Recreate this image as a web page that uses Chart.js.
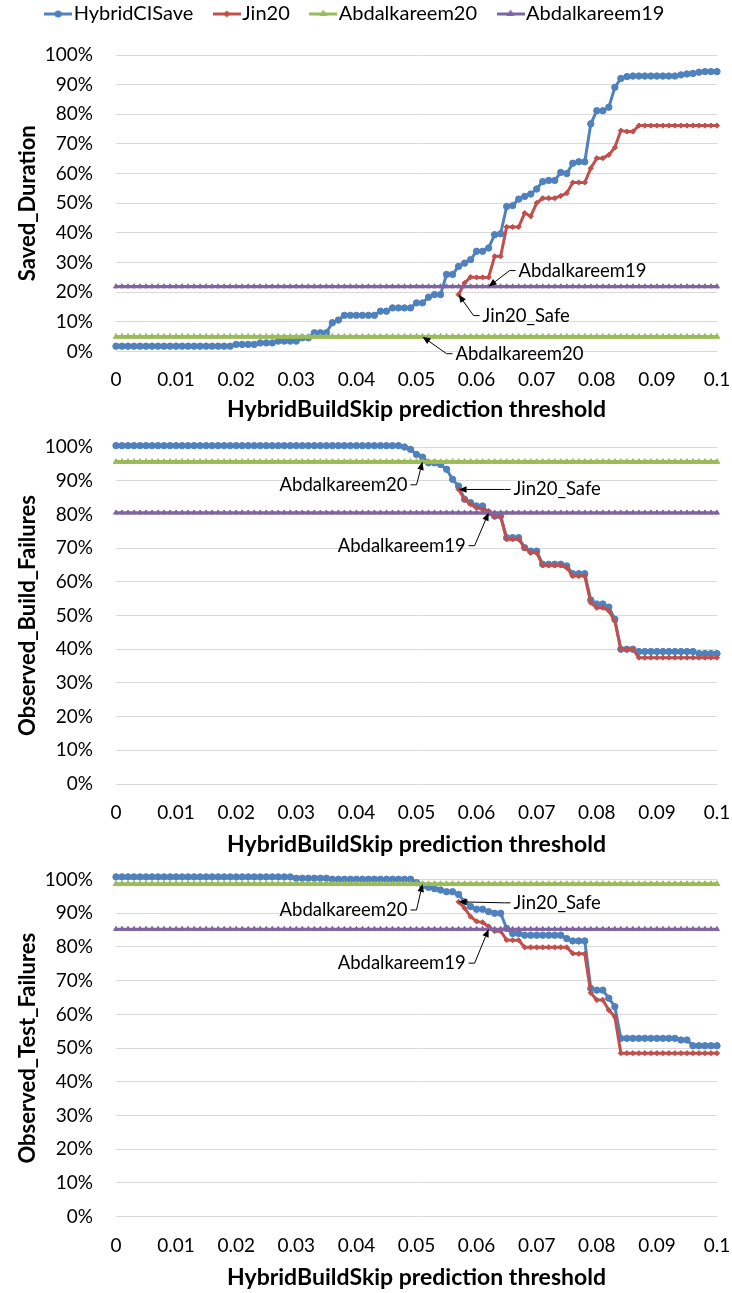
<!DOCTYPE html>
<html><head><meta charset="utf-8">
<script src="https://cdn.jsdelivr.net/npm/chart.js@4.4.0/dist/chart.umd.min.js"></script>
<style>
html,body{margin:0;padding:0;background:#fff;}
body{width:732px;height:1293px;position:relative;overflow:hidden;}
canvas{position:absolute;left:0;}
</style></head><body>
<canvas id="c1" width="732" height="430" style="top:0"></canvas>
<canvas id="c2" width="732" height="435" style="top:430px"></canvas>
<canvas id="c3" width="732" height="428" style="top:865px"></canvas>
<script>
// ---------- data ----------
const seriesNames = ['HybridCISave','Jin20','Abdalkareem20','Abdalkareem19'];
const xTitle = 'HybridBuildSkip prediction threshold';
const yTitles = ['Saved_Duration','Observed_Build_Failures','Observed_Test_Failures'];
const xTickLabels = ['0','0.01','0.02','0.03','0.04','0.05','0.06','0.07','0.08','0.09','0.1'];
const yTickLabels = ['0%','10%','20%','30%','40%','50%','60%','70%','80%','90%','100%'];

const thresholds = [
0,0.001,0.002,0.003,0.004,0.005,0.006,0.007,0.008,0.009,
0.01,0.011,0.012,0.013,0.014,0.015,0.016,0.017,0.018,0.019,
0.02,0.021,0.022,0.023,0.024,0.025,0.026,0.027,0.028,0.029,
0.03,0.031,0.032,0.033,0.034,0.035,0.036,0.037,0.038,0.039,
0.04,0.041,0.042,0.043,0.044,0.045,0.046,0.047,0.048,0.049,
0.05,0.051,0.052,0.053,0.054,0.055,0.056,0.057,0.058,0.059,
0.06,0.061,0.062,0.063,0.064,0.065,0.066,0.067,0.068,0.069,
0.07,0.071,0.072,0.073,0.074,0.075,0.076,0.077,0.078,0.079,
0.08,0.081,0.082,0.083,0.084,0.085,0.086,0.087,0.088,0.089,
0.09,0.091,0.092,0.093,0.094,0.095,0.096,0.097,0.098,0.099,
0.1];

// Saved_Duration (%)
const savedHybrid = [
1.8,1.8,1.8,1.8,1.8,1.8,1.8,1.8,1.8,1.8,
1.8,1.8,1.8,1.8,1.8,1.8,1.8,1.8,1.8,1.8,
2.4,2.4,2.4,2.4,2.9,2.9,2.9,3.5,3.5,3.5,
3.5,4.6,4.6,6.3,6.3,6.3,9.7,10.6,12.2,12.2,
12.2,12.2,12.2,12.2,13.6,13.6,14.7,14.7,14.7,14.7,
16.4,16.4,18.3,19.2,19.2,26.0,26.0,28.7,29.8,31.0,
33.8,33.8,34.9,39.4,39.7,48.9,49.2,51.4,52.3,53.1,
54.8,57.3,57.7,57.7,60.4,60.0,63.5,64.0,64.0,76.8,
81.2,81.2,82.4,89.1,92.1,92.7,92.9,92.9,92.9,92.9,
92.9,92.9,92.9,92.9,93.3,93.6,93.8,94.2,94.4,94.4,
94.4];
const savedJin = [
null,null,null,null,null,null,null,null,null,null,
null,null,null,null,null,null,null,null,null,null,
null,null,null,null,null,null,null,null,null,null,
null,null,null,null,null,null,null,null,null,null,
null,null,null,null,null,null,null,null,null,null,
null,null,null,null,null,null,null,19.2,23.1,25.1,
25.0,25.0,25.0,32.1,32.1,42.0,42.0,42.0,46.7,45.6,
50.1,51.7,51.7,51.7,52.5,53.4,57.0,57.0,57.0,61.8,
65.2,65.2,66.3,68.8,74.5,74.2,74.2,76.2,76.2,76.2,
76.2,76.2,76.2,76.2,76.2,76.2,76.2,76.2,76.2,76.2,
76.2];
const savedAbd20 = [
5,5,5,5,5,5,5,5,5,5, 5,5,5,5,5,5,5,5,5,5, 5,5,5,5,5,5,5,5,5,5,
5,5,5,5,5,5,5,5,5,5, 5,5,5,5,5,5,5,5,5,5, 5,5,5,5,5,5,5,5,5,5,
5,5,5,5,5,5,5,5,5,5, 5,5,5,5,5,5,5,5,5,5, 5,5,5,5,5,5,5,5,5,5,
5,5,5,5,5,5,5,5,5,5, 5];
const savedAbd19 = [
21.9,21.9,21.9,21.9,21.9,21.9,21.9,21.9,21.9,21.9, 21.9,21.9,21.9,21.9,21.9,21.9,21.9,21.9,21.9,21.9,
21.9,21.9,21.9,21.9,21.9,21.9,21.9,21.9,21.9,21.9, 21.9,21.9,21.9,21.9,21.9,21.9,21.9,21.9,21.9,21.9,
21.9,21.9,21.9,21.9,21.9,21.9,21.9,21.9,21.9,21.9, 21.9,21.9,21.9,21.9,21.9,21.9,21.9,21.9,21.9,21.9,
21.9,21.9,21.9,21.9,21.9,21.9,21.9,21.9,21.9,21.9, 21.9,21.9,21.9,21.9,21.9,21.9,21.9,21.9,21.9,21.9,
21.9,21.9,21.9,21.9,21.9,21.9,21.9,21.9,21.9,21.9, 21.9,21.9,21.9,21.9,21.9,21.9,21.9,21.9,21.9,21.9,
21.9];

// Observed_Build_Failures (%)
const buildHybrid = [
100.4,100.4,100.4,100.4,100.4,100.4,100.4,100.4,100.4,100.4,
100.4,100.4,100.4,100.4,100.4,100.4,100.4,100.4,100.4,100.4,
100.4,100.4,100.4,100.4,100.4,100.4,100.4,100.4,100.4,100.4,
100.4,100.4,100.4,100.4,100.4,100.4,100.4,100.4,100.4,100.4,
100.4,100.4,100.4,100.4,100.4,100.4,100.4,100.4,100.0,99.3,
97.8,97.0,95.3,95.3,94.8,93.4,90.4,88.4,84.5,83.5,
82.5,82.5,80.5,79.5,79.5,73.1,73.1,73.1,70.1,69.1,
69.1,65.2,65.2,65.2,65.2,64.7,62.4,62.4,62.4,54.6,
53.4,53.4,52.5,48.9,40.0,40.0,40.0,39.3,39.3,39.3,
39.3,39.3,39.3,39.3,39.3,39.3,39.3,38.7,38.7,38.7,
38.7];
const buildJin = [
null,null,null,null,null,null,null,null,null,null,
null,null,null,null,null,null,null,null,null,null,
null,null,null,null,null,null,null,null,null,null,
null,null,null,null,null,null,null,null,null,null,
null,null,null,null,null,null,null,null,null,null,
null,null,null,null,null,null,null,87.4,84.5,83.0,
82.0,81.5,81.0,79.3,79.3,72.6,72.6,72.6,70.1,68.6,
68.6,64.9,64.9,64.9,64.9,64.2,61.7,61.7,61.7,53.8,
52.3,52.3,51.4,48.3,40.0,40.0,40.0,37.5,37.5,37.5,
37.5,37.5,37.5,37.5,37.5,37.5,37.5,37.5,37.5,37.5,
37.5];
const buildAbd20 = [
95.6,95.6,95.6,95.6,95.6,95.6,95.6,95.6,95.6,95.6, 95.6,95.6,95.6,95.6,95.6,95.6,95.6,95.6,95.6,95.6,
95.6,95.6,95.6,95.6,95.6,95.6,95.6,95.6,95.6,95.6, 95.6,95.6,95.6,95.6,95.6,95.6,95.6,95.6,95.6,95.6,
95.6,95.6,95.6,95.6,95.6,95.6,95.6,95.6,95.6,95.6, 95.6,95.6,95.6,95.6,95.6,95.6,95.6,95.6,95.6,95.6,
95.6,95.6,95.6,95.6,95.6,95.6,95.6,95.6,95.6,95.6, 95.6,95.6,95.6,95.6,95.6,95.6,95.6,95.6,95.6,95.6,
95.6,95.6,95.6,95.6,95.6,95.6,95.6,95.6,95.6,95.6, 95.6,95.6,95.6,95.6,95.6,95.6,95.6,95.6,95.6,95.6,
95.6];
const buildAbd19 = [
80.5,80.5,80.5,80.5,80.5,80.5,80.5,80.5,80.5,80.5, 80.5,80.5,80.5,80.5,80.5,80.5,80.5,80.5,80.5,80.5,
80.5,80.5,80.5,80.5,80.5,80.5,80.5,80.5,80.5,80.5, 80.5,80.5,80.5,80.5,80.5,80.5,80.5,80.5,80.5,80.5,
80.5,80.5,80.5,80.5,80.5,80.5,80.5,80.5,80.5,80.5, 80.5,80.5,80.5,80.5,80.5,80.5,80.5,80.5,80.5,80.5,
80.5,80.5,80.5,80.5,80.5,80.5,80.5,80.5,80.5,80.5, 80.5,80.5,80.5,80.5,80.5,80.5,80.5,80.5,80.5,80.5,
80.5,80.5,80.5,80.5,80.5,80.5,80.5,80.5,80.5,80.5, 80.5,80.5,80.5,80.5,80.5,80.5,80.5,80.5,80.5,80.5,
80.5];

// Observed_Test_Failures (%)
const testHybrid = [
100.8,100.8,100.8,100.8,100.8,100.8,100.8,100.8,100.8,100.8,
100.8,100.8,100.8,100.8,100.8,100.8,100.8,100.8,100.8,100.8,
100.8,100.8,100.8,100.8,100.8,100.8,100.8,100.8,100.8,100.8,
100.4,100.4,100.4,100.4,100.4,100.4,100.1,100.1,100.1,100.1,
100.1,100.1,100.1,100.1,100.1,100.1,100.1,100.1,100.1,100.1,
99.1,98.2,97.7,97.3,96.9,96.4,96.4,95.6,93.4,92.0,
91.2,91.2,90.5,90.0,90.0,85.5,84.0,84.0,83.5,83.5,
83.5,83.5,83.5,83.5,83.5,82.5,81.8,81.8,81.8,67.7,
67.2,67.2,64.8,62.3,52.9,52.9,52.9,52.9,52.9,52.9,
52.9,52.9,52.9,52.9,52.4,52.4,50.7,50.7,50.7,50.7,
50.7];
const testJin = [
null,null,null,null,null,null,null,null,null,null,
null,null,null,null,null,null,null,null,null,null,
null,null,null,null,null,null,null,null,null,null,
null,null,null,null,null,null,null,null,null,null,
null,null,null,null,null,null,null,null,null,null,
null,null,null,null,null,null,null,93.4,91.5,89.0,
87.6,87.3,86.1,84.7,84.7,82.1,82.0,82.0,79.9,79.9,
79.9,79.9,79.9,79.9,79.9,79.9,78.1,78.0,78.0,66.4,
64.3,64.3,61.3,59.3,48.5,48.5,48.5,48.5,48.5,48.5,
48.5,48.5,48.5,48.5,48.5,48.5,48.5,48.5,48.5,48.5,
48.5];
const testAbd20 = [
98.7,98.7,98.7,98.7,98.7,98.7,98.7,98.7,98.7,98.7, 98.7,98.7,98.7,98.7,98.7,98.7,98.7,98.7,98.7,98.7,
98.7,98.7,98.7,98.7,98.7,98.7,98.7,98.7,98.7,98.7, 98.7,98.7,98.7,98.7,98.7,98.7,98.7,98.7,98.7,98.7,
98.7,98.7,98.7,98.7,98.7,98.7,98.7,98.7,98.7,98.7, 98.7,98.7,98.7,98.7,98.7,98.7,98.7,98.7,98.7,98.7,
98.7,98.7,98.7,98.7,98.7,98.7,98.7,98.7,98.7,98.7, 98.7,98.7,98.7,98.7,98.7,98.7,98.7,98.7,98.7,98.7,
98.7,98.7,98.7,98.7,98.7,98.7,98.7,98.7,98.7,98.7, 98.7,98.7,98.7,98.7,98.7,98.7,98.7,98.7,98.7,98.7,
98.7];
const testAbd19 = [
85.3,85.3,85.3,85.3,85.3,85.3,85.3,85.3,85.3,85.3, 85.3,85.3,85.3,85.3,85.3,85.3,85.3,85.3,85.3,85.3,
85.3,85.3,85.3,85.3,85.3,85.3,85.3,85.3,85.3,85.3, 85.3,85.3,85.3,85.3,85.3,85.3,85.3,85.3,85.3,85.3,
85.3,85.3,85.3,85.3,85.3,85.3,85.3,85.3,85.3,85.3, 85.3,85.3,85.3,85.3,85.3,85.3,85.3,85.3,85.3,85.3,
85.3,85.3,85.3,85.3,85.3,85.3,85.3,85.3,85.3,85.3, 85.3,85.3,85.3,85.3,85.3,85.3,85.3,85.3,85.3,85.3,
85.3,85.3,85.3,85.3,85.3,85.3,85.3,85.3,85.3,85.3, 85.3,85.3,85.3,85.3,85.3,85.3,85.3,85.3,85.3,85.3,
85.3];

// ---------- styling ----------
const FONT = 'Lato, "Open Sans", sans-serif';
Chart.defaults.font.family = FONT;
Chart.defaults.color = '#000';
const COLORS = ['#4f81bd','#c0504d','#9bbb59','#8064a2'];
const POINT_STYLES = ['circle','rectRot','triangle','triangle'];
const LINE_W = [3,3,3.5,3];
const POINT_R = [3.2,2.6,3.2,2.8];
const TICK_SIZE = 19, XTITLE_SIZE = 23, YTITLE_SIZE = 22, NOTE_SIZE = 18.5, LEGEND_SIZE = 20;

function legendIcon(i){
  const c = document.createElement('canvas'); c.width = 28; c.height = 12;
  const g = c.getContext('2d');
  g.strokeStyle = COLORS[i]; g.fillStyle = COLORS[i]; g.lineWidth = 3;
  g.beginPath(); g.moveTo(0,6); g.lineTo(28,6); g.stroke();
  g.beginPath();
  if (i === 0) { g.arc(14,6,3.6,0,Math.PI*2); }
  else if (i === 1) { g.moveTo(14,2.4); g.lineTo(17.6,6); g.lineTo(14,9.6); g.lineTo(10.4,6); g.closePath(); }
  else { g.moveTo(14,1.5); g.lineTo(18,8); g.lineTo(10,8); g.closePath(); }
  g.fill();
  return c;
}
const icons = [0,1,2,3].map(legendIcon);

const notesPlugin = {
  id: 'notes',
  afterDatasetsDraw(chart, args, opts) {
    const {ctx} = chart; const xs = chart.scales.x, ys = chart.scales.y;
    ctx.save();
    ctx.font = NOTE_SIZE + 'px ' + FONT;
    ctx.fillStyle = '#000'; ctx.strokeStyle = '#000'; ctx.lineWidth = 1;
    ctx.textBaseline = 'middle';
    (opts.items || []).forEach(n => {
      const px = xs.getPixelForValue(n.x), py = ys.getPixelForValue(n.y);
      const tx = px + n.dx, ty = py + n.dy;
      const dir = n.side === 'left' ? -1 : 1;
      ctx.textAlign = n.side === 'left' ? 'left' : 'right';
      ctx.fillText(n.text, tx, ty);
      const sx = tx + dir * 3, ex = tx + dir * 9;
      const ang = Math.atan2(py - ty, px - ex);
      const L = 8, W = 3.3;
      const bx = px - L * Math.cos(ang), by = py - L * Math.sin(ang);
      ctx.beginPath(); ctx.moveTo(sx, ty); ctx.lineTo(ex, ty); ctx.lineTo(bx, by); ctx.stroke();
      ctx.beginPath(); ctx.moveTo(px, py);
      ctx.lineTo(bx + W * Math.sin(ang), by - W * Math.cos(ang));
      ctx.lineTo(bx - W * Math.sin(ang), by + W * Math.cos(ang));
      ctx.closePath(); ctx.fill();
    });
    ctx.restore();
  }
};
const legendShift = {
  id: 'legendShift',
  afterLayout(chart, args, opts) {
    if (chart.legend && opts.dy) { chart.legend.top += opts.dy; chart.legend.bottom += opts.dy; }
  }
};

function dataset(i, vals) {
  return {
    label: seriesNames[i],
    data: thresholds.map((t, k) => ({x: t, y: vals[k]})),
    borderColor: COLORS[i], backgroundColor: COLORS[i],
    borderWidth: LINE_W[i],
    pointStyle: POINT_STYLES[i], pointRadius: POINT_R[i], pointBorderWidth: 1,
    pointBackgroundColor: COLORS[i], pointBorderColor: COLORS[i],
    pointHoverRadius: POINT_R[i], tension: 0, spanGaps: false, clip: false,
    order: 4 - i
  };
}

function panel(id, p) {
  new Chart(document.getElementById(id), {
    type: 'line',
    data: { datasets: p.series.map((v, i) => dataset(i, v)) },
    options: {
      responsive: false, animation: false, devicePixelRatio: 1,
      events: [],
      layout: { padding: { top: p.padTop, right: 15, left: 0, bottom: 0 } },
      plugins: {
        tooltip: { enabled: false },
        legend: p.legend ? {
          display: true, position: 'top', align: 'center', maxHeight: 52,
          labels: {
            usePointStyle: true, pointStyleWidth: 11, padding: 28,
            font: { size: LEGEND_SIZE }, color: '#000',
            generateLabels: () => seriesNames.map((n, i) => ({
              text: n, pointStyle: icons[i], fillStyle: COLORS[i], strokeStyle: COLORS[i],
              lineWidth: 0, hidden: false, datasetIndex: i, fontColor: '#000'
            }))
          }
        } : { display: false },
        legendShift: { dy: p.legend ? -27 : 0 },
        notes: { items: p.notes }
      },
      scales: {
        x: {
          type: 'linear', min: 0, max: 0.1,
          grid: { display: false, drawTicks: false },
          border: { display: false },
          ticks: { stepSize: 0.01, padding: p.tickPad, autoSkip: false, maxRotation: 0,
                   font: { size: TICK_SIZE }, color: '#000',
                   callback: (v, i) => xTickLabels[i] },
          title: { display: true, text: xTitle, color: '#000',
                   font: { size: XTITLE_SIZE, weight: 'bold' },
                   padding: { top: 0, bottom: p.titlePad } },
          afterFit: s => { s.height = p.xAxisH; s.paddingLeft = 0; s.paddingRight = 0; }
        },
        y: {
          min: 0, max: 100,
          grid: { color: '#d9d9d9', lineWidth: 1, drawTicks: false },
          border: { display: false },
          ticks: { stepSize: 10, padding: 23, font: { size: TICK_SIZE }, color: '#000',
                   callback: (v, i) => yTickLabels[i] },
          title: { display: true, text: p.yTitle, color: '#000',
                   font: { size: YTITLE_SIZE, weight: 'bold' },
                   padding: { top: 15, bottom: 0 } },
          afterFit: s => { s.width = 116; s.paddingTop = 0; s.paddingBottom = 0; }
        }
      }
    },
    plugins: [notesPlugin, legendShift]
  });
}

panel('c1', {
  legend: true, padTop: 3, xAxisH: 78.5, tickPad: 17, titlePad: 6.5,
  yTitle: yTitles[0],
  series: [savedHybrid, savedJin, savedAbd20, savedAbd19],
  notes: [
    { text: 'Abdalkareem19', x: 0.062, y: 21.9, dx: 30, dy: -16, side: 'left' },
    { text: 'Jin20_Safe', x: 0.057, y: 19.2, dx: 24, dy: 21, side: 'left' },
    { text: 'Abdalkareem20', x: 0.051, y: 5.0, dx: 33, dy: 17, side: 'left' }
  ]
});
panel('c2', {
  legend: false, padTop: 17, xAxisH: 81, tickPad: 17, titlePad: 6.5,
  yTitle: yTitles[1],
  series: [buildHybrid, buildJin, buildAbd20, buildAbd19],
  notes: [
    { text: 'Abdalkareem20', x: 0.051, y: 95.6, dx: -15, dy: 23, side: 'right' },
    { text: 'Jin20_Safe', x: 0.057, y: 87.4, dx: 55, dy: 0, side: 'left' },
    { text: 'Abdalkareem19', x: 0.062, y: 80.5, dx: -23, dy: 33, side: 'right' }
  ]
});
panel('c3', {
  legend: false, padTop: 14.6, xAxisH: 76.4, tickPad: 18, titlePad: 1.5,
  yTitle: yTitles[2],
  series: [testHybrid, testJin, testAbd20, testAbd19],
  notes: [
    { text: 'Abdalkareem20', x: 0.051, y: 98.7, dx: -15, dy: 26, side: 'right' },
    { text: 'Jin20_Safe', x: 0.057, y: 93.4, dx: 55, dy: 1, side: 'left' },
    { text: 'Abdalkareem19', x: 0.062, y: 85.3, dx: -23, dy: 34, side: 'right' }
  ]
});
</script>
</body></html>
